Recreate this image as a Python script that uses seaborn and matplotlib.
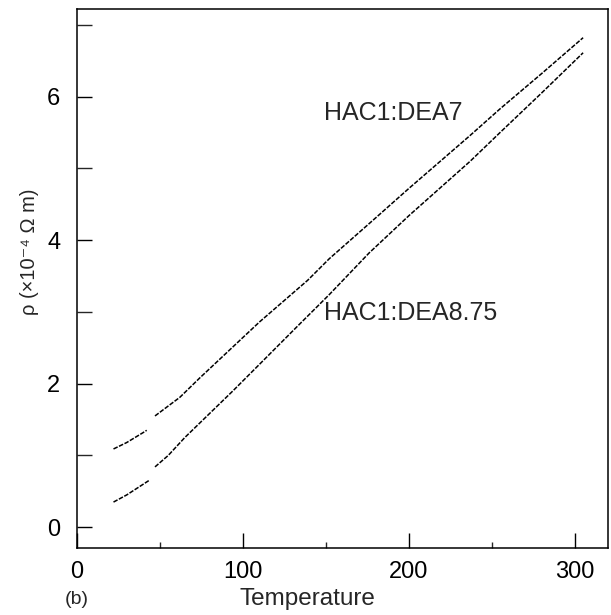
import numpy as np
import pandas as pd
import matplotlib
matplotlib.use("Agg")
import matplotlib.pyplot as plt
import seaborn as sns
from matplotlib.ticker import MultipleLocator

# ---- data (NaN marks a visible gap in the trace) ----
temp_dea7 = [22, 30, 40, 42, 44, 47, 62, 74, 92, 110, 139, 152, 180, 200, 237, 255, 280, 305]
rho_dea7 = [1.09, 1.18, 1.32, 1.35, np.nan, 1.55, 1.81, 2.08, 2.47, 2.86, 3.44, 3.74, 4.31, 4.72, 5.46, 5.83, 6.32, 6.82]

temp_dea875 = [22, 30, 40, 44, 45, 47, 55, 65, 94, 110, 132, 152, 176, 200, 237, 255, 280, 305]
rho_dea875 = [0.35, 0.45, 0.60, 0.66, np.nan, 0.84, 1.00, 1.25, 1.90, 2.27, 2.78, 3.24, 3.82, 4.34, 5.10, 5.50, 6.05, 6.61]

series_names = ["HAC1:DEA7", "HAC1:DEA8.75"]
x_ticks = [0, 100, 200, 300]
y_ticks = [0, 2, 4, 6]
x_label = "Temperature"
y_label = "ρ (×10⁻⁴ Ω m)"
panel_label = "(b)"

frames = []
for name, t, r in [(series_names[0], temp_dea7, rho_dea7),
                   (series_names[1], temp_dea875, rho_dea875)]:
    f = pd.DataFrame({"T": t, "rho": r, "series": name})
    f["segment"] = name + "_" + f["rho"].isna().cumsum().astype(str)
    frames.append(f)
df = pd.concat(frames, ignore_index=True)

sns.set_style("ticks")
plt.rcParams["font.family"] = ["Liberation Sans", "DejaVu Sans"]

fig = plt.figure(figsize=(6.11, 6.15), dpi=100)
ax = fig.add_axes([77 / 611, 1 - 548 / 615, (608 - 77) / 611, (548 - 9) / 615])

sns.lineplot(data=df.dropna(), x="T", y="rho", hue="series", units="segment",
             estimator=None, palette=["black", "black"], legend=False,
             lw=1.1, linestyle=(0, (3, 1)), sort=False, ax=ax)

ax.set_xlim(0, 320)
ax.set_ylim(-0.29, 7.22)
ax.set_xticks(x_ticks)
ax.set_yticks(y_ticks)
ax.xaxis.set_minor_locator(MultipleLocator(50))
ax.yaxis.set_minor_locator(MultipleLocator(1))
ax.tick_params(axis="both", which="major", direction="in", length=11, width=1,
               labelsize=17, colors="black")
ax.tick_params(axis="x", which="minor", direction="in", length=4, width=1)
ax.tick_params(axis="y", which="minor", direction="in", length=11, width=1)
ax.tick_params(axis="x", which="major", pad=9)
ax.tick_params(axis="y", which="major", pad=12)

for s in ax.spines.values():
    s.set_visible(True)
    s.set_color("black")
    s.set_linewidth(1.1)

ax.set_xlabel("")
ax.set_ylabel("")
fig.text(307 / 611, 1 - 599 / 615, x_label, ha="center", va="center", fontsize=17.5)
fig.text(77 / 611, 1 - 599 / 615, panel_label, ha="center", va="center", fontsize=14)
fig.text(30 / 611, 1 - 252 / 615, y_label, ha="center", va="center", fontsize=14.5, rotation=90)

ax.text(149, 5.77, series_names[0], ha="left", va="center", fontsize=18)
ax.text(149, 2.98, series_names[1], ha="left", va="center", fontsize=18)

fig.savefig("out.png", dpi=100, facecolor="white")
